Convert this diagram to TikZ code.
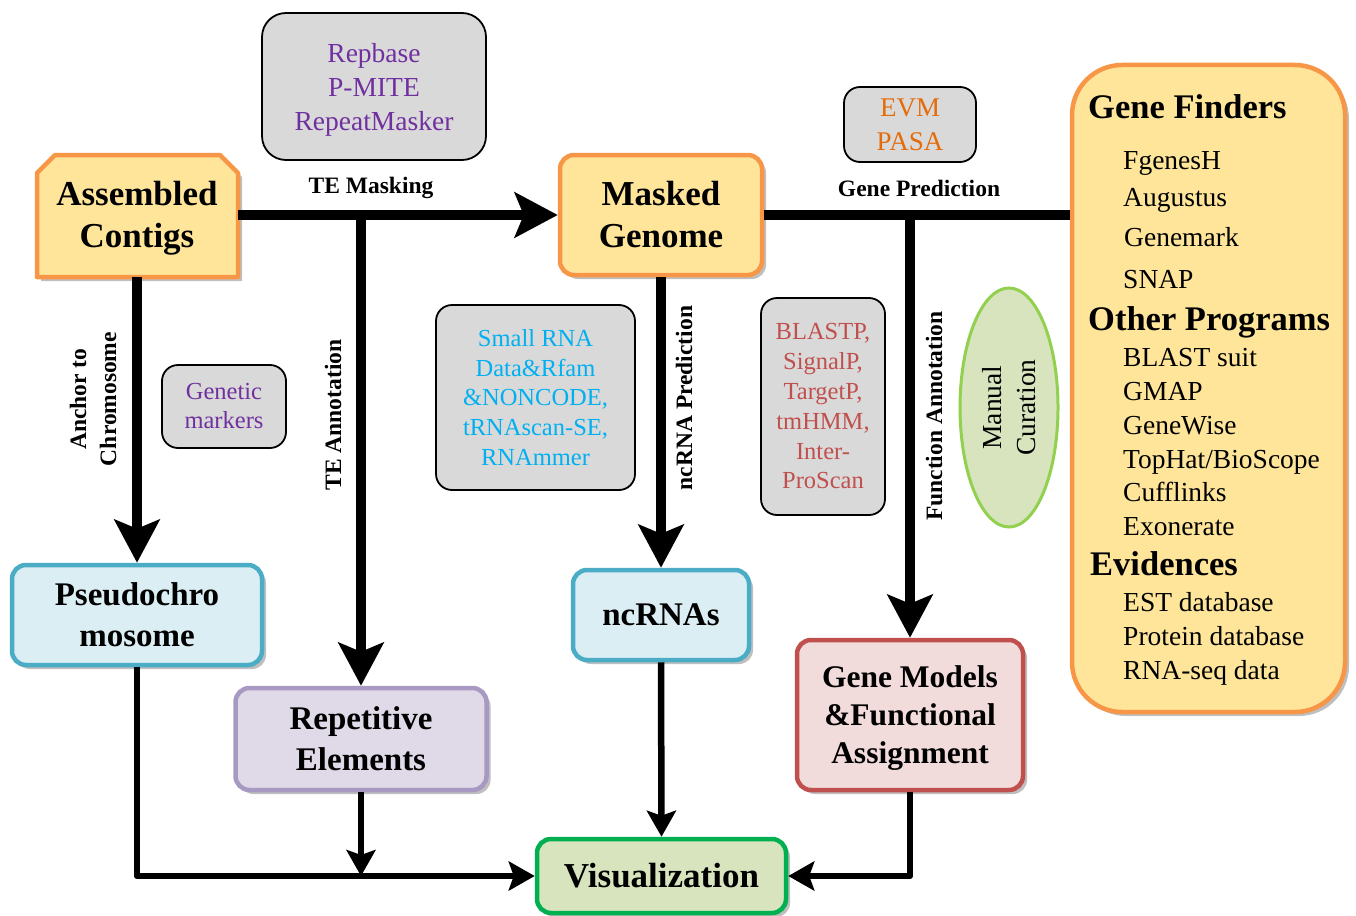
\documentclass[tikz,border=0pt]{standalone}
\usepackage{fontspec}
\setmainfont{Liberation Serif}
\usetikzlibrary{arrows.meta,shadows,shapes.geometric}
\definecolor{yfill}{HTML}{FEE59A}
\definecolor{oline}{HTML}{F79646}
\definecolor{gfill}{HTML}{D9D9D9}
\definecolor{purp}{HTML}{7030A0}
\definecolor{cyant}{HTML}{00B0F0}
\definecolor{redt}{HTML}{C0504D}
\definecolor{orat}{HTML}{E46C0A}
\definecolor{bfill}{HTML}{DBEEF4}
\definecolor{bline}{HTML}{4BACC6}
\definecolor{lfill}{HTML}{E0D9E7}
\definecolor{lline}{HTML}{A899C2}
\definecolor{pfill}{HTML}{F2DCDB}
\definecolor{vfill}{HTML}{D7E4BD}
\definecolor{vline}{HTML}{00B050}
\definecolor{eline}{HTML}{92D050}
\begin{document}
\begin{tikzpicture}[x=1pt,y=-1pt,
  shad/.style={drop shadow={shadow xshift=4pt,shadow yshift=-4pt,opacity=0.25,fill=black}},
  box/.style={draw,line width=4.5pt,rounded corners=14pt,inner sep=0pt,align=center,
    font=\bfseries\fontsize{33}{41}\selectfont,shad},
  ybox/.style={box,fill=yfill,draw=oline,font=\bfseries\fontsize{35}{42}\selectfont},
  gbox/.style={draw,line width=1.8pt,fill=gfill,rounded corners=16pt,align=center,inner sep=0pt},
  txt/.style={inner sep=0pt,align=center},
  lbl/.style={font=\bfseries\fontsize{23.5}{30}\selectfont,inner sep=0pt,align=center},
  itm/.style={anchor=base west,inner sep=0pt,font=\fontsize{27.5}{32}\selectfont},
  hdg/.style={anchor=base west,inner sep=0pt,font=\bfseries\fontsize{34.5}{40}\selectfont},
  bigarr/.style={line width=10pt,-{Stealth[length=43pt,width=45pt,inset=9pt]}},
  bigline/.style={line width=10pt},
  thinarr/.style={line width=6.5pt,line join=round,-{Stealth[length=26pt,width=29pt,inset=5pt]}}]
\useasboundingbox (0,0) rectangle (1356,915);

% Assembled Contigs (chamfered)
\path[fill=yfill,draw=oline,line width=4.5pt,line join=round,shad]
  (37,277) -- (37,173) -- (55,155) -- (220,155) -- (238,173) -- (238,277) -- cycle;
\node[inner sep=0pt,minimum width=201pt,minimum height=122pt,align=center,
  font=\bfseries\fontsize{35}{42}\selectfont] (ac) at (137,218) {Assembled\\Contigs};
\coordinate (acs) at (137,277);
\coordinate (ace) at (238,215);

% Masked genome
\node[ybox,minimum width=202pt,minimum height=120pt] (mg) at (661,215) {Masked\\Genome};

% Gene finders panel
\node[box,fill=yfill,draw=oline,rounded corners=50pt,minimum width=273pt,minimum height=647pt] (gf) at (1208.5,388.5) {};
\node[hdg] (h1) at (1088,118) {Gene Finders};
\node[itm] (i1) at (1123,169) {FgenesH};
\node[itm] (i2) at (1123,206) {Augustus};
\node[itm] (i3) at (1124,246) {Genemark};
\node[itm] (i4) at (1123,288) {SNAP};
\node[hdg] (h2) at (1088,330) {Other Programs};
\node[itm] (i5) at (1123,366) {BLAST suit};
\node[itm] (i6) at (1123,400) {GMAP};
\node[itm] (i7) at (1123,434) {GeneWise};
\node[itm] (i8) at (1123,468) {TopHat/BioScope};
\node[itm] (i9) at (1123,501) {Cufflinks};
\node[itm] (i10) at (1123,535) {Exonerate};
\node[hdg] (h3) at (1090,575) {Evidences};
\node[itm] (i11) at (1123,611) {EST database};
\node[itm] (i12) at (1123,645) {Protein database};
\node[itm] (i13) at (1123,679) {RNA-seq data};

% grey tool boxes
\node[gbox,rounded corners=24pt,minimum width=224pt,minimum height=147pt] (te) at (374,86.5) {};
\node[txt,text=purp,font=\fontsize{27.5}{34}\selectfont] (tet) at (374,89.5) {Repbase\\P-MITE\\RepeatMasker};
\node[gbox,minimum width=132pt,minimum height=75pt,text=orat,
  font=\fontsize{27}{34}\selectfont] (evm) at (910,124.5) {EVM\\PASA};
\node[gbox,minimum width=124pt,minimum height=83pt,text=purp,
  font=\fontsize{24.5}{29}\selectfont] (gm0) at (224,406.5) {Genetic\\markers};
\node[gbox,minimum width=199pt,minimum height=185pt,text=cyant,
  font=\fontsize{24.5}{29.75}\selectfont] (srna) at (535.5,397.5)
  {Small RNA\\Data\&Rfam\\\&NONCODE,\\tRNAscan-SE,\\RNAmmer};
\node[gbox,minimum width=124pt,minimum height=217pt,text=redt,
  font=\fontsize{24.5}{29.8}\selectfont] (blast) at (823,406.5)
  {BLASTP,\\SignalP,\\TargetP,\\tmHMM,\\Inter-\\ProScan};

% Manual curation
\node[ellipse,draw=eline,fill=vfill,line width=3pt,rotate=90,minimum width=239pt,
  minimum height=98pt,inner sep=0pt,align=center,font=\fontsize{27.5}{34}\selectfont]
  (mc) at (1009,407.5) {Manual\\Curation};

% result boxes
\node[box,fill=bfill,draw=bline,minimum width=250pt,minimum height=100pt] (ps) at (137,615) {Pseudochro\\mosome};
\node[box,fill=lfill,draw=lline,minimum width=251pt,minimum height=102pt] (rep) at (361,739) {Repetitive\\Elements};
\node[box,fill=bfill,draw=bline,minimum width=176pt,minimum height=90pt] (nc) at (661,615) {ncRNAs};
\node[box,fill=pfill,draw=redt,minimum width=226pt,minimum height=150pt] (gmod) at (910,715) {};
\node[txt,font=\bfseries\fontsize{31.5}{38}\selectfont] (gmodt) at (910,718.5) {Gene Models\\\&Functional\\Assignment};
\node[box,fill=vfill,draw=vline,minimum width=249pt,minimum height=74pt,
  font=\bfseries\fontsize{35}{42}\selectfont] (vis) at (661.5,876) {Visualization};

% labels
\node[lbl] (l1) at (371,188) {TE Masking};
\node[lbl] (l2) at (919,188) {Gene Prediction};
\node[lbl,rotate=90] (l3) at (93,399) {Anchor to\\Chromosome};
\node[lbl,rotate=90] (l4) at (333,415) {TE Annotation};
\node[lbl,rotate=90] (l5) at (684,398) {ncRNA Prediction};
\node[lbl,rotate=90] (l6) at (934,416) {Function Annotation};

% connectors
\coordinate (tej) at (361,215);
\coordinate (gpj) at (910,215);
\draw[bigarr] (ace) -- (mg.west);
\draw[bigarr] (tej) -- (rep.north);
\draw[bigarr] (acs) -- (ps.north);
\draw[bigarr] (mg.south) -- (nc.north);
\draw[bigline] (mg.east) -- (mg.east -| gf.west);
\draw[bigarr] (gpj) -- (gmod.north);
\draw[thinarr] (ps.south) |- (vis.west);
\draw[thinarr] (rep.south) -- (rep.south |- vis.west);
\draw[thinarr] (nc.south) -- (vis.north);
\draw[thinarr] (gmod.south) |- (vis.east);
\end{tikzpicture}
\end{document}
